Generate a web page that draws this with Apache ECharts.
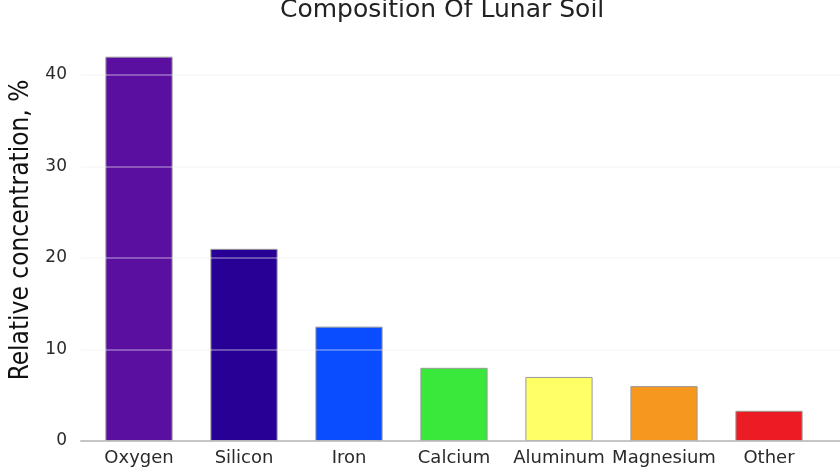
<!DOCTYPE html>
<html>
<head>
<meta charset="utf-8">
<script src="https://cdn.jsdelivr.net/npm/echarts@6/dist/echarts.min.js"></script>
<style>html,body{margin:0;padding:0;background:#fff}#c{width:840px;height:467px}</style>
</head>
<body>
<div id="c"></div>
<script>
const categories = ['Oxygen', 'Silicon', 'Iron', 'Calcium', 'Aluminum', 'Magnesium', 'Other'];
const values = [42, 21, 12.5, 8, 7, 6, 3.3];
const barColors = ['#5b0fa1', '#280096', '#0a4cff', '#39e83b', '#ffff66', '#f7981e', '#ec1c24'];
const yTicks = [0, 10, 20, 30, 40];

const chart = echarts.init(document.getElementById('c'));
const font = 'DejaVu Sans';
chart.setOption({
  animation: false,
  title: {
    text: 'Composition Of Lunar Soil', left: 275, top: -7,
    textStyle: { fontFamily: font, fontSize: 25, fontWeight: 'normal', color: '#222' }
  },
  grid: [
    { left: 86.5, right: 18.5, top: 75, bottom: 26 },
    { left: 75, right: 0, top: 75, bottom: 26 }
  ],
  xAxis: [
    { type: 'category', gridIndex: 0, data: categories,
      axisLine: { show: false }, axisTick: { show: false },
      axisLabel: { fontFamily: font, fontSize: 18, color: '#2a2a2a', margin: 8, interval: 0 } },
    { type: 'value', gridIndex: 1, min: 0, max: 1,
      axisLine: { show: true, lineStyle: { color: '#999', width: 1.5 } },
      axisTick: { show: false }, axisLabel: { show: false }, splitLine: { show: false } }
  ],
  yAxis: [
    { type: 'value', gridIndex: 0, min: 0, max: 40, interval: 10,
      axisLine: { show: false }, axisTick: { show: false },
      axisLabel: { show: false }, splitLine: { show: false } },
    { type: 'value', gridIndex: 1, min: 0, max: 40, interval: 10, z: 10,
      name: 'Relative concentration, %', nameLocation: 'middle', nameGap: 47, nameRotate: 90,
      nameTextStyle: { fontFamily: 'Liberation Sans Narrow, DejaVu Sans Condensed, sans-serif', fontSize: 26, color: '#111', padding: [0, 0, 0, 56] },
      axisLine: { show: false }, axisTick: { show: false },
      axisLabel: { fontFamily: font, fontSize: 17, color: '#2a2a2a', margin: 14,
        formatter: v => (yTicks.indexOf(v) >= 0 ? String(v) : '') },
      splitLine: { show: true, lineStyle: { color: 'rgba(238,238,238,0.45)', width: 1.5 } } }
  ],
  series: [{
    type: 'bar', xAxisIndex: 0, yAxisIndex: 0, clip: false,
    data: values.map((v, i) => ({ value: v, itemStyle: { color: barColors[i] } })),
    barCategoryGap: '36%',
    itemStyle: { borderColor: '#999', borderWidth: 1 }
  }]
});
</script>
</body>
</html>
